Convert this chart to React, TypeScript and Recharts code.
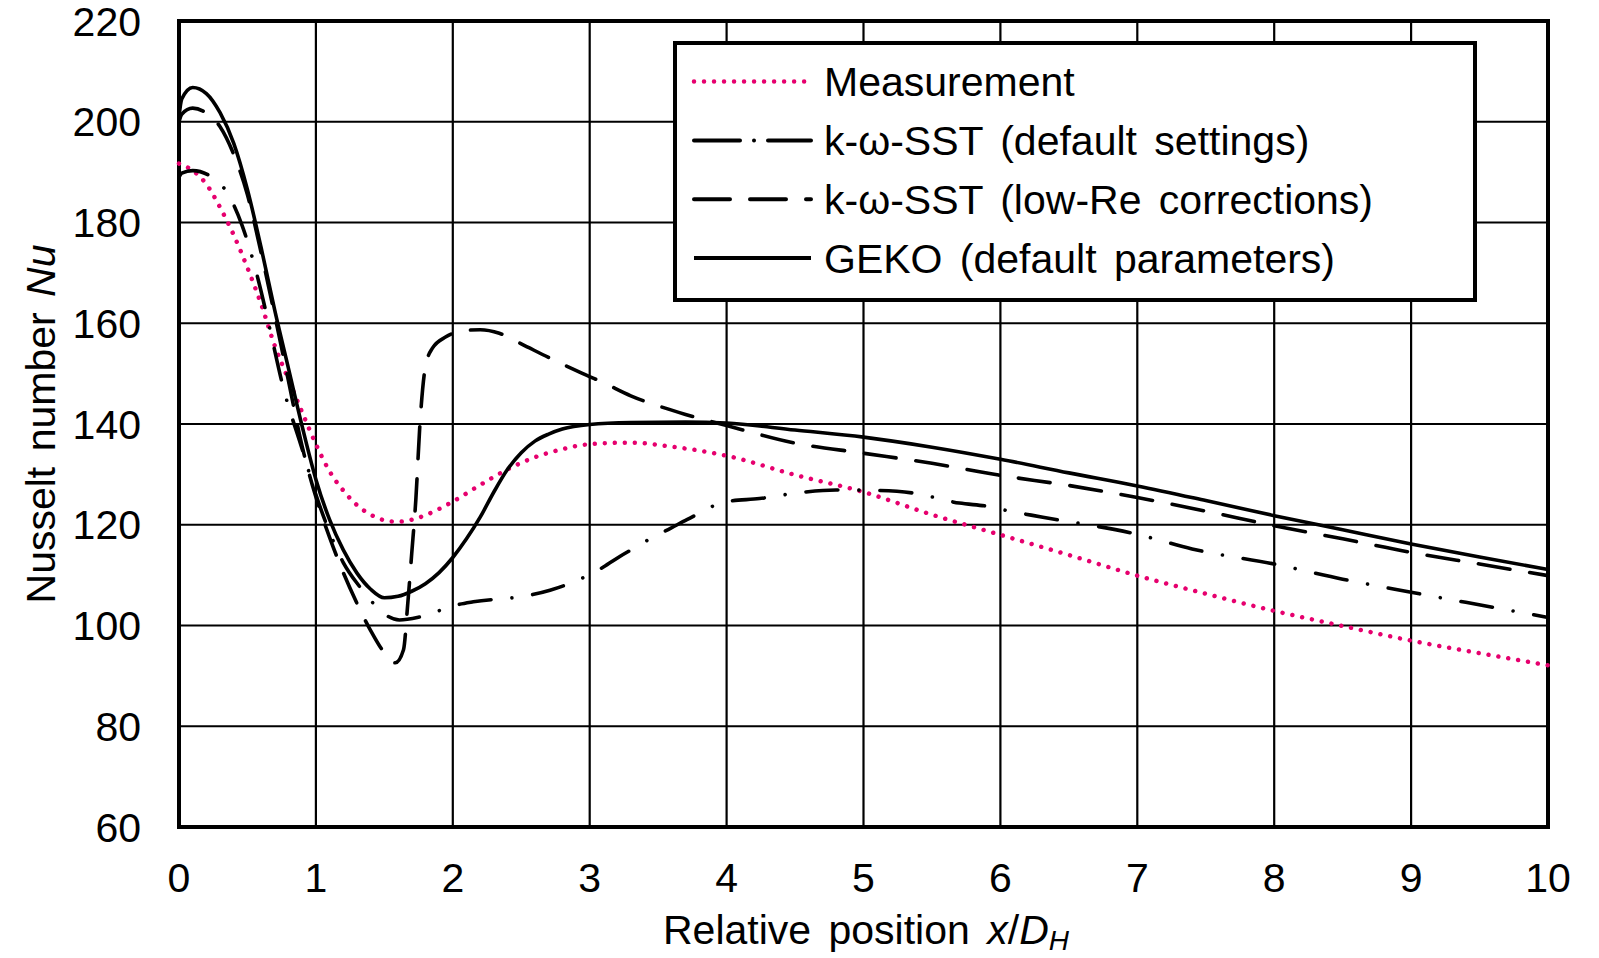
import React from "react";
import { LineChart, Line, XAxis, YAxis, CartesianGrid, ReferenceArea } from "recharts";

// Nusselt number along the channel
const measX = [0, 0.1, 0.2, 0.3, 0.4, 0.5, 0.6, 0.7, 0.8, 0.9, 1.0, 1.1, 1.2, 1.3, 1.4, 1.5, 1.6, 1.7, 1.8, 2.0, 2.2, 2.4, 2.6, 2.8, 3.0, 3.3, 3.6, 4.0, 4.5, 5.0, 5.5, 6.0, 6.5, 7.0, 7.5, 8.0, 8.5, 9.0, 9.5, 10];
const measNu = [191.7, 190.3, 187.6, 183, 177.5, 171, 163.8, 155.5, 148.8, 142.3, 136, 130.6, 126.8, 123.9, 122, 120.9, 120.6, 121, 121.9, 124.6, 127.9, 131, 133.4, 135, 136, 136.3, 135.5, 133.7, 129.9, 126.5, 122, 118, 114, 109.9, 106.3, 102.9, 99.9, 97, 94.5, 92.1];

const sstX = [0, 0.02, 0.1, 0.25, 0.35, 0.46, 0.58, 0.66, 0.76, 0.9, 1.0, 1.1, 1.2, 1.32, 1.4, 1.49, 1.61, 1.76, 2.03, 2.15, 2.56, 2.71, 2.86, 3.1, 3.22, 3.34, 3.46, 3.59, 3.71, 4.0, 4.24, 4.54, 4.8, 5.1, 5.36, 5.7, 5.92, 6.05, 6.31, 7.0, 7.4, 8.0, 8.5, 9.0, 9.6, 10];
const sstNu = [189, 189.8, 190.3, 188.8, 186, 179.5, 168.5, 159.3, 147.4, 135, 126, 118.5, 112.5, 107.7, 105, 102.5, 101.1, 101.7, 104.1, 104.7, 106, 107, 108.4, 111.6, 113.7, 115.6, 117.5, 119.3, 121, 124.6, 125.2, 126.4, 126.9, 126.8, 126.3, 124.3, 123.6, 122.8, 121.5, 118.1, 115.2, 112.2, 109.2, 106.6, 103.6, 101.6];

const lowReX = [0, 0.02, 0.1, 0.2, 0.3, 0.4, 0.5, 0.6, 0.7, 0.8, 0.9, 1.0, 1.1, 1.2, 1.3, 1.4, 1.5, 1.58, 1.64, 1.67, 1.7, 1.73, 1.76, 1.8, 1.85, 1.95, 2.1, 2.2, 2.34, 2.5, 2.7, 2.95, 3.1, 3.3, 3.5, 3.7, 4.0, 4.5, 5.0, 5.5, 6.0, 6.5, 7.0, 7.5, 8.0, 8.5, 9.0, 9.5, 10];
const lowReNu = [200, 201.5, 202.7, 201.7, 199, 193.5, 185.5, 174, 161.5, 148.5, 135.5, 125.5, 117.5, 110.5, 104.4, 99, 94.6, 92.6, 95.2, 104, 114.3, 125, 140, 151.4, 155, 157.3, 158.6, 158.7, 158, 155.9, 153.2, 150, 148.2, 145.6, 143.6, 141.9, 139.7, 136.2, 134.2, 132.2, 129.8, 127.8, 125.4, 122.7, 119.8, 117.2, 114.5, 112.2, 109.9];

const gekoX = [0, 0.02, 0.1, 0.2, 0.3, 0.4, 0.5, 0.6, 0.7, 0.8, 0.9, 1.0, 1.1, 1.2, 1.3, 1.4, 1.5, 1.6, 1.7, 1.8, 1.9, 2.0, 2.1, 2.2, 2.3, 2.4, 2.5, 2.6, 2.7, 2.8, 3.0, 3.3, 3.7, 4.0, 4.5, 5.0, 5.5, 6.0, 6.5, 7.0, 7.5, 8.0, 8.5, 9.0, 9.5, 10];
const gekoNu = [201, 204.5, 206.8, 205.6, 201.8, 195.7, 186.5, 175, 162.5, 151, 139.5, 129, 121, 115, 110.4, 107.2, 105.5, 105.8, 106.8, 108.3, 110.5, 113.5, 117.2, 121.5, 126.5, 131, 134.3, 136.6, 138, 139, 139.9, 140.3, 140.4, 140.2, 138.8, 137.4, 135.4, 133, 130.3, 127.7, 124.8, 121.8, 119, 116.2, 113.6, 111.1];

const xTicks = [0, 1, 2, 3, 4, 5, 6, 7, 8, 9, 10];
const yTicks = [60, 80, 100, 120, 140, 160, 180, 200, 220];

const seriesNames = [
  "Measurement",
  "k-ω-SST (default settings)",
  "k-ω-SST (low-Re corrections)",
  "GEKO (default parameters)",
];

const toPoints = (xs: number[], ys: number[]) => xs.map((x, i) => ({ x, nu: ys[i] }));

const FONT = "'Liberation Sans', Arial, sans-serif";
const PINK = "#e6006e";

const XTick = (props: any) => {
  const { x, y, payload } = props;
  return (
    <text x={x} y={y + 65} textAnchor="middle" fontSize={41} fontFamily={FONT} fill="#000">
      {payload.value}
    </text>
  );
};

const YTick = (props: any) => {
  const { x, y, payload } = props;
  return (
    <text x={x - 38} y={y + 14.5} textAnchor="end" fontSize={41} fontFamily={FONT} fill="#000">
      {payload.value}
    </text>
  );
};

function LegendBox() {
  const rows = [
    { name: seriesNames[0], stroke: PINK, width: 4.5, dash: "0.01 10" },
    { name: seriesNames[1], stroke: "#000", width: 4, dash: "46 14 0.01 14 46" },
    { name: seriesNames[2], stroke: "#000", width: 4, dash: "36 20" },
    { name: seriesNames[3], stroke: "#000", width: 4, dash: undefined },
  ];
  return (
    <div style={{ position: "absolute", left: 673, top: 41, width: 804, height: 261 }}>
      <svg width={804} height={261}>
        <rect x={2} y={2} width={800} height={257} fill="#fff" stroke="#000" strokeWidth={4} />
        {rows.map((r, i) => {
          const cy = 40.6 + i * 58.8;
          return (
            <g key={r.name}>
              <line x1={21} x2={138} y1={cy} y2={cy} stroke={r.stroke} strokeWidth={r.width}
                strokeDasharray={r.dash} strokeLinecap={r.dash ? "round" : "butt"} />
              <text x={151} y={cy + 14.5} fontSize={41} fontFamily={FONT} wordSpacing={6} fill="#000">
                {r.name}
              </text>
            </g>
          );
        })}
      </svg>
    </div>
  );
}

export default function App() {
  return (
    <div style={{ position: "absolute", left: 0, top: 0, width: 1599, height: 958, background: "#fff" }}>
      <LineChart width={1599} height={958} margin={{ top: 21, right: 51, bottom: 0, left: 0 }}>
        <CartesianGrid stroke="#000" strokeWidth={2.2} />
        <XAxis
          type="number"
          dataKey="x"
          domain={[0, 10]}
          ticks={xTicks}
          height={131}
          axisLine={false}
          tickLine={false}
          tickSize={0}
          tickMargin={0}
          tick={XTick}
          interval={0}
          allowDuplicatedCategory={false}
        />
        <YAxis
          type="number"
          domain={[60, 220]}
          ticks={yTicks}
          width={179}
          axisLine={false}
          tickLine={false}
          tickSize={0}
          tickMargin={0}
          tick={YTick}
          interval={0}
        />
        <ReferenceArea x1={0} x2={10} y1={60} y2={220} fill="none" stroke="#000" strokeWidth={4} />
        <Line data={toPoints(measX, measNu)} dataKey="nu" name={seriesNames[0]} type="monotone"
          stroke={PINK} strokeWidth={4.5} strokeDasharray="0.01 10" strokeLinecap="round"
          dot={false} activeDot={false} isAnimationActive={false} />
        <Line data={toPoints(sstX, sstNu)} dataKey="nu" name={seriesNames[1]} type="monotone"
          stroke="#000" strokeWidth={3.6} strokeDasharray="32 21 0.01 21" strokeLinecap="round"
          dot={false} activeDot={false} isAnimationActive={false} />
        <Line data={toPoints(lowReX, lowReNu)} dataKey="nu" name={seriesNames[2]} type="monotone"
          stroke="#000" strokeWidth={3.6} strokeDasharray="32 20" strokeLinecap="round"
          dot={false} activeDot={false} isAnimationActive={false} />
        <Line data={toPoints(gekoX, gekoNu)} dataKey="nu" name={seriesNames[3]} type="monotone"
          stroke="#000" strokeWidth={3.6}
          dot={false} activeDot={false} isAnimationActive={false} />
        <text x={866} y={944} textAnchor="middle" fontSize={41} fontFamily={FONT} fill="#000" wordSpacing={6}>
          Relative position <tspan fontStyle="italic">x</tspan>/<tspan fontStyle="italic">D</tspan>
          <tspan fontStyle="italic" fontSize={28} dy={6}>H</tspan>
        </text>
        <text x={55} y={424} transform="rotate(-90 55 424)" textAnchor="middle" fontSize={41} fontFamily={FONT} fill="#000" wordSpacing={4}>
          Nusselt number <tspan fontStyle="italic">Nu</tspan>
        </text>
      </LineChart>
      <LegendBox />
    </div>
  );
}
